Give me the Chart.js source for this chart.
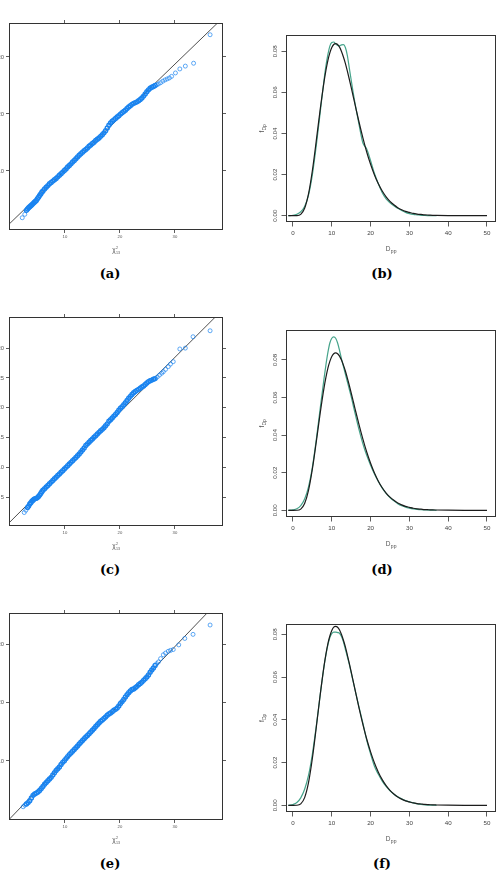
<!DOCTYPE html>
<html>
<head>
<meta charset="utf-8">
<script src="https://cdn.jsdelivr.net/npm/chart.js@4.4.1/dist/chart.umd.min.js"></script>
<style>
  html, body { margin: 0; padding: 0; background: #fff; }
  body { position: relative; width: 500px; height: 875px; overflow: hidden; }
  canvas { position: absolute; }
  .cap { position: absolute; width: 60px; text-align: center; font: bold 13px "DejaVu Serif", serif; color: #000; line-height: 16px; }
</style>
</head>
<body>
<canvas id="qqA"></canvas>
<canvas id="densB"></canvas>
<canvas id="qqC"></canvas>
<canvas id="densD"></canvas>
<canvas id="qqE"></canvas>
<canvas id="densF"></canvas>
<div class="cap" style="left:80px;top:266px">(a)</div>
<div class="cap" style="left:352px;top:266px">(b)</div>
<div class="cap" style="left:80px;top:562px">(c)</div>
<div class="cap" style="left:352px;top:562px">(d)</div>
<div class="cap" style="left:80px;top:856px">(e)</div>
<div class="cap" style="left:352px;top:856px">(f)</div>
<script>
// QQ panels: sample quantiles against chi-square(13) quantiles
const qqAx = [2.24, 2.7, 3.0, 3.2, 3.4, 3.6, 3.8, 4.0, 4.2, 4.4, 4.6, 4.8, 5.0, 5.2, 5.4, 5.6, 5.8, 6.0,
  6.3, 6.6, 6.9, 7.2, 7.5, 7.8, 8.1, 8.4, 8.7, 9.0, 9.3, 9.6, 9.9, 10.2, 10.5, 10.8, 11.1, 11.4, 11.7, 12.0,
  12.3, 12.6, 12.9, 13.2, 13.5, 13.8, 14.1, 14.4, 14.7, 15.0, 15.3, 15.6, 15.9, 16.2, 16.5, 16.8, 17.1, 17.4,
  17.7, 18.0, 18.3, 18.6, 18.9, 19.2, 19.5, 19.8, 20.1, 20.4, 20.7, 21.0, 21.3, 21.6, 21.9, 22.2, 22.5, 22.8,
  23.1, 23.4, 23.7, 24.0, 24.3, 24.6, 24.9, 25.2, 25.5, 25.8, 26.1, 26.4, 26.7, 27.0,
  27.4, 27.8, 28.2, 28.6, 29.0, 29.4, 30.1, 30.9, 31.9, 33.4, 36.4];
const qqAy = [1.8, 2.4, 3.1, 3.35, 3.54, 3.72, 3.91, 4.09, 4.28, 4.47, 4.65, 4.84, 5.13, 5.41, 5.70, 5.98, 6.27, 6.51,
  6.84, 7.16, 7.44, 7.77, 8.0, 8.23, 8.46, 8.69, 8.97, 9.25, 9.53, 9.81, 10.09, 10.37, 10.70, 10.97, 11.25, 11.58, 11.86, 12.14,
  12.47, 12.75, 13.03, 13.31, 13.54, 13.77, 14.05, 14.33, 14.56, 14.84, 15.06, 15.34, 15.57, 15.80, 16.08, 16.36, 16.69, 17.07,
  17.55, 18.03, 18.41, 18.74, 18.97, 19.20, 19.47, 19.70, 19.98, 20.21, 20.44, 20.67, 20.95, 21.23, 21.46, 21.69, 21.87, 22.0,
  22.13, 22.31, 22.53, 22.81, 23.14, 23.52, 23.9, 24.23, 24.51, 24.69, 24.82, 25.0, 25.13, 25.26,
  25.48, 25.75, 25.97, 26.15, 26.32, 26.6, 27.2, 27.9, 28.4, 28.9, 33.9];
const refAx = [-0.13, 37.8];
const refAy = [0.7, 36.0];

const qqCx = [2.6, 2.9, 3.2, 3.4, 3.6, 3.8, 4.0, 4.2, 4.4, 4.6, 4.8, 5.0, 5.2, 5.4, 5.6, 5.8, 6.0,
  6.3, 6.6, 6.9, 7.2, 7.5, 7.8, 8.1, 8.4, 8.7, 9.0, 9.3, 9.6, 9.9, 10.2, 10.5, 10.8, 11.1, 11.4, 11.7, 12.0, 12.3,
  12.6, 12.9, 13.2, 13.5, 13.8, 14.1, 14.4, 14.7, 15.0, 15.3, 15.6, 15.9, 16.2, 16.5, 16.8, 17.1, 17.4, 17.7,
  18.0, 18.3, 18.6, 18.9, 19.2, 19.5, 19.8, 20.1, 20.4, 20.7, 21.0, 21.3, 21.6, 21.9, 22.2, 22.5, 22.8,
  23.1, 23.4, 23.7, 24.0, 24.3, 24.6, 24.9, 25.2, 25.5, 25.8, 26.1, 26.4,
  26.8, 27.2, 27.6, 27.9, 28.3, 28.8, 29.2, 29.7, 30.9, 31.9, 33.3, 36.4];
const qqCy = [2.5, 2.88, 3.35, 3.58, 3.92, 4.15, 4.38, 4.57, 4.75, 4.83, 4.87, 5.0, 5.18, 5.42, 5.70, 5.98, 6.22,
  6.49, 6.77, 7.04, 7.32, 7.59, 7.86, 8.14, 8.41, 8.69, 8.96, 9.24, 9.51, 9.79, 10.06, 10.34, 10.61, 10.89, 11.16, 11.44, 11.71, 11.99,
  12.31, 12.64, 12.96, 13.29, 13.71, 13.99, 14.26, 14.54, 14.81, 15.08, 15.36, 15.63, 15.91, 16.18, 16.41, 16.68, 17.01, 17.33,
  17.76, 18.03, 18.31, 18.63, 18.91, 19.23, 19.61, 19.93, 20.21, 20.53, 20.86, 21.23, 21.61, 21.93, 22.26, 22.53, 22.75,
  22.93, 23.10, 23.28, 23.50, 23.68, 23.90, 24.18, 24.40, 24.53, 24.65, 24.78, 24.90,
  25.17, 25.49, 25.80, 26.05, 26.44, 26.90, 27.32, 27.73, 29.85, 30.0, 31.9, 32.9];
const refCx = [-0.13, 37.3];
const refCy = [0.8, 35.15];

const qqEx = [2.4, 2.7, 3.0, 3.3, 3.6, 3.9, 4.2, 4.5, 4.8, 5.1, 5.4, 5.7, 6.0, 6.3, 6.6, 6.9, 7.2, 7.5, 7.8, 8.1,
  8.4, 8.7, 9.0, 9.3, 9.6, 9.9, 10.2, 10.5, 10.8, 11.1, 11.4, 11.7, 12.0, 12.3, 12.6, 12.9, 13.2, 13.5, 13.8, 14.1,
  14.4, 14.7, 15.0, 15.3, 15.6, 15.9, 16.2, 16.5, 16.8, 17.1, 17.4, 17.7, 18.0, 18.3, 18.6, 18.9, 19.2, 19.5, 19.8, 20.1,
  20.4, 20.7, 21.0, 21.3, 21.6, 21.9, 22.2, 22.5, 22.8, 23.1, 23.4, 23.7, 24.0, 24.3, 24.6, 24.9, 25.2, 25.5, 25.8, 26.1,
  26.4, 26.7, 27.0, 27.4, 27.9, 28.3, 28.8, 29.2, 29.7, 30.7, 31.8, 33.3, 36.4];
const qqEy = [2.16, 2.43, 2.63, 2.87, 3.20, 3.66, 4.11, 4.35, 4.50, 4.69, 4.94, 5.28, 5.63, 6.02, 6.32, 6.61, 6.91, 7.20, 7.60, 7.99,
  8.39, 8.68, 8.98, 9.42, 9.77, 10.06, 10.41, 10.75, 11.10, 11.39, 11.69, 11.98, 12.28, 12.57, 12.92, 13.21, 13.51, 13.80, 14.10, 14.39,
  14.69, 14.98, 15.28, 15.57, 15.91, 16.21, 16.50, 16.80, 17.04, 17.29, 17.53, 17.83, 18.07, 18.22, 18.46, 18.71, 18.85, 19.10, 19.44, 19.84,
  20.18, 20.53, 20.97, 21.37, 21.71, 22.01, 22.25, 22.35, 22.54, 22.79, 23.08, 23.28, 23.52, 23.82, 24.11, 24.41, 24.75, 25.20, 25.59, 25.94,
  26.38, 26.68, 26.97, 27.55, 28.2, 28.5, 28.8, 28.95, 29.1, 29.9, 31.0, 31.7, 33.3];
const refEx = [-0.13, 35.9];
const refEy = [0.0, 35.4];

const qqXTicks = [10, 20, 30];
const qqYTicksAE = [10, 20, 30];
const qqYTicksC = [5, 10, 15, 20, 25, 30];

// density panels: fitted chi-square(13) density (black) and kernel estimate (green)
const densX = [-1.2, 0, 1, 2, 3, 4, 5, 6, 7, 8, 8.5, 9, 9.5, 10, 10.5, 11, 11.5, 12, 12.5, 13, 13.5, 14, 14.5, 15, 15.5,
  16, 17, 18, 19, 20, 21, 22, 23, 24, 25, 26, 27, 28, 29, 30, 31, 32, 33, 34, 35, 36, 37, 40, 45, 50];
const densFit = [0, 0, 0.00002, 0.00064, 0.0036, 0.0106, 0.0220, 0.0364, 0.0515, 0.0651, 0.0708, 0.0756, 0.0792, 0.0818, 0.0833,
  0.0837, 0.0833, 0.0820, 0.0799, 0.0772, 0.0741, 0.0704, 0.0665, 0.0624, 0.0582,
  0.0540, 0.0457, 0.0380, 0.0310, 0.0250, 0.0198, 0.0155, 0.0120, 0.0092, 0.0070, 0.0053, 0.0039, 0.0029, 0.0021, 0.0016,
  0.0011, 0.0008, 0.0006, 0.0004, 0.0003, 0.0002, 0.00015, 0.00005, 0.00001, 0];
const densKdeB = [0, 0.0002, 0.0007, 0.0019, 0.0045, 0.0100, 0.0200, 0.0340, 0.0500, 0.0660, 0.0730, 0.0785, 0.0825, 0.0843, 0.0845,
  0.0836, 0.0828, 0.0826, 0.0831, 0.0832, 0.0818, 0.0780, 0.0720, 0.0660, 0.0600,
  0.0545, 0.0445, 0.0355, 0.0325, 0.0268, 0.0205, 0.0155, 0.0112, 0.0082, 0.0063, 0.0048, 0.0036, 0.0025, 0.0016, 0.0010,
  0.0006, 0.0004, 0.0002, 0.0001, 0.00005, 0, 0, null, null, null];
const densKdeD = [0, 0.0002, 0.0008, 0.0025, 0.0060, 0.0125, 0.0230, 0.0375, 0.0540, 0.0700, 0.0775, 0.0840, 0.0890, 0.0915, 0.0922,
  0.0915, 0.0890, 0.0850, 0.0805, 0.0765, 0.0725, 0.0685, 0.0645, 0.0605, 0.0560,
  0.0515, 0.0430, 0.0355, 0.0292, 0.0240, 0.0193, 0.0153, 0.0118, 0.0090, 0.0068, 0.0050, 0.0035, 0.0024, 0.0017, 0.0012,
  0.0008, 0.0005, 0.0003, 0.0002, 0.0001, 0.00005, 0, null, null, null];
const densKdeF = [0, 0.0004, 0.0013, 0.0035, 0.0075, 0.0140, 0.0240, 0.0370, 0.0515, 0.0650, 0.0705, 0.0750, 0.0785, 0.0803, 0.0810,
  0.0810, 0.0808, 0.0805, 0.0790, 0.0765, 0.0730, 0.0695, 0.0660, 0.0620, 0.0580,
  0.0540, 0.0460, 0.0385, 0.0305, 0.0240, 0.0182, 0.0145, 0.0113, 0.0088, 0.0068, 0.0052, 0.0040, 0.0030, 0.0022, 0.0016,
  0.0011, 0.0007, 0.0004, 0.0002, 0.0001, 0.00005, 0, null, null, null];
const densXTicks = [0, 10, 20, 30, 40, 50];
const densYTicks = [0, 0.02, 0.04, 0.06, 0.08];

const sans = '"Liberation Sans", Arial, sans-serif';
Chart.defaults.font.family = sans;

// draws the box round the plot region and the sub/superscripted axis titles
const frame = {
  id: 'frame',
  afterDatasetsDraw(chart, args, opts) {
    const { ctx, chartArea: a } = chart;
    ctx.save();
    ctx.strokeStyle = '#333';
    ctx.lineWidth = 1;
    const l = Math.round(a.left), t = Math.round(a.top), r = Math.round(a.right), b = Math.round(a.bottom);
    ctx.strokeRect(l + 0.5, t + 0.5, r - l - 1, b - t - 1);
    if (opts.xTitle) drawTitle(ctx, opts.xTitle, (a.left + a.right) / 2, a.bottom + opts.xTitle.off, 0);
    if (opts.yTitle) drawTitle(ctx, opts.yTitle, a.left - opts.yTitle.off, (a.top + a.bottom) / 2, -Math.PI / 2);
    ctx.restore();
  }
};

function drawTitle(ctx, t, cx, cy, rot) {
  ctx.save();
  ctx.translate(cx, cy);
  ctx.rotate(rot);
  ctx.fillStyle = '#555';
  ctx.textBaseline = 'alphabetic';
  ctx.font = t.size + 'px ' + sans;
  const bw = ctx.measureText(t.base).width;
  ctx.font = t.small + 'px ' + sans;
  const sw = Math.max(ctx.measureText(t.sub || '').width, ctx.measureText(t.sup || '').width);
  const x0 = -(bw + sw) / 2;
  const base = t.size * 0.35;
  ctx.font = t.size + 'px ' + sans;
  ctx.fillText(t.base, x0, base);
  ctx.font = t.small + 'px ' + sans;
  if (t.sup) ctx.fillText(t.sup, x0 + bw + 0.3, base - t.size * 0.45);
  if (t.sub) ctx.fillText(t.sub, x0 + bw + 0.3, base + t.size * 0.3);
  ctx.restore();
}

function placeCanvas(id, box, g) {
  const cv = document.getElementById(id);
  const w = box.R - box.L + g.lw + g.rw;
  const h = box.B - box.T + g.th + g.bh;
  cv.width = w; cv.height = h;
  cv.style.width = w + 'px'; cv.style.height = h + 'px';
  cv.style.left = (box.L - g.lw) + 'px';
  cv.style.top = (box.T - g.th) + 'px';
  return cv;
}

const setTicks = vals => s => { s.ticks = vals.map(v => ({ value: v })); };

function qqChart(id, box, xs, ys, refX, refY, yTicks, xr, yr) {
  const g = { lw: 40, rw: 8, th: 8, bh: 32 };
  const cv = placeCanvas(id, box, g);
  const grid = { drawOnChartArea: false, drawTicks: true, tickLength: 3, color: '#333', lineWidth: 0.8 };
  new Chart(cv, {
    type: 'scatter',
    data: {
      datasets: [
        {
          data: xs.map((x, i) => ({ x: x, y: ys[i] })),
          pointRadius: 2,
          // where the points crowd together they merge into a solid band
          pointBorderWidth: c => (c.raw && c.raw.x > 2.9 && c.raw.x < 26.5) ? 1.4 : 0.7,
          borderColor: '#1a84f0', backgroundColor: 'rgba(0,0,0,0)'
        },
        {
          type: 'line',
          data: refX.map((x, i) => ({ x: x, y: refY[i] })),
          borderColor: '#222', borderWidth: 0.8, pointRadius: 0, fill: false
        }
      ]
    },
    options: {
      responsive: false, devicePixelRatio: 1, animation: false, events: [],
      layout: { padding: 0 },
      plugins: {
        legend: { display: false }, tooltip: { enabled: false },
        frame: { xTitle: { base: 'χ', sup: '2', sub: '13', size: 6.5, small: 3.6, off: 20 } }
      },
      scales: {
        x: {
          type: 'linear', position: 'bottom', min: xr[0], max: xr[1],
          afterBuildTicks: setTicks(qqXTicks), afterFit: s => { s.height = g.bh; },
          ticks: { font: { size: 4.2 }, color: '#555', padding: 1.5, autoSkip: false, maxRotation: 0 },
          grid: grid, border: { display: false }
        },
        xTop: {
          type: 'linear', position: 'top', min: xr[0], max: xr[1],
          afterBuildTicks: setTicks(qqXTicks), afterFit: s => { s.height = g.th; },
          ticks: { display: false }, grid: grid, border: { display: false }
        },
        y: {
          type: 'linear', position: 'left', min: yr[0], max: yr[1],
          afterBuildTicks: setTicks(yTicks), afterFit: s => { s.width = g.lw; },
          ticks: { font: { size: 5.8 }, color: '#555', padding: 2, autoSkip: false },
          grid: grid, border: { display: false }
        },
        yRight: {
          type: 'linear', position: 'right', min: yr[0], max: yr[1],
          afterBuildTicks: setTicks(yTicks), afterFit: s => { s.width = g.rw; },
          ticks: { display: false }, grid: grid, border: { display: false }
        }
      }
    },
    plugins: [frame]
  });
}

function densChart(id, box, kde, yr) {
  const g = { lw: 36, rw: 5, th: 8, bh: 34 };
  const cv = placeCanvas(id, box, g);
  const grid = { drawOnChartArea: false, drawTicks: true, tickLength: 4.5, color: '#333', lineWidth: 0.8 };
  const pts = arr => densX.map((x, i) => ({ x: x, y: arr[i] })).filter(p => p.y !== null);
  new Chart(cv, {
    type: 'line',
    data: {
      datasets: [
        { data: pts(densFit), borderColor: '#1c1c1c', borderWidth: 1.2, pointRadius: 0, cubicInterpolationMode: 'monotone' },
        { data: pts(kde), borderColor: '#45a38a', borderWidth: 1.2, pointRadius: 0, cubicInterpolationMode: 'monotone' }
      ]
    },
    options: {
      responsive: false, devicePixelRatio: 1, animation: false, events: [],
      layout: { padding: { top: g.th, right: g.rw } },
      plugins: {
        legend: { display: false }, tooltip: { enabled: false },
        frame: {
          xTitle: { base: 'D', sub: 'pp', size: 6.5, small: 5, off: 26.5 },
          yTitle: { base: 'f', sub: 'Dp', size: 6.5, small: 5, off: 24.5 }
        }
      },
      scales: {
        x: {
          type: 'linear', position: 'bottom', min: -1.8, max: 52.32,
          afterBuildTicks: setTicks(densXTicks), afterFit: s => { s.height = g.bh; },
          ticks: { font: { size: 6.2 }, color: '#444', padding: 3.5, autoSkip: false, maxRotation: 0 },
          grid: grid, border: { display: false }
        },
        y: {
          type: 'linear', position: 'left', min: yr[0], max: yr[1],
          afterBuildTicks: setTicks(densYTicks), afterFit: s => { s.width = g.lw; },
          ticks: {
            font: { size: 6.2 }, color: '#444', padding: 0.5, autoSkip: false,
            minRotation: 90, maxRotation: 90, crossAlign: 'center',
            callback: v => v.toFixed(2)
          },
          grid: grid, border: { display: false }
        }
      }
    },
    plugins: [frame]
  });
}

qqChart('qqA', { L: 9, R: 223, T: 23, B: 230 }, qqAx, qqAy, refAx, refAy, qqYTicksAE, [-0.17, 38.75], [-0.35, 35.96]);
qqChart('qqC', { L: 9, R: 223, T: 317, B: 526 }, qqCx, qqCy, refCx, refCy, qqYTicksC, [-0.17, 38.75], [0.25, 35.2]);
qqChart('qqE', { L: 9, R: 223, T: 613, B: 820 }, qqEx, qqEy, refEx, refEy, qqYTicksAE, [-0.17, 38.75], [-0.11, 35.36]);

densChart('densB', { L: 286, R: 496, T: 35, B: 222 }, densKdeB, [-0.00307, 0.0879]);
densChart('densD', { L: 286, R: 496, T: 330, B: 517 }, densKdeD, [-0.00356, 0.0959]);
densChart('densF', { L: 286, R: 496, T: 624, B: 812 }, densKdeF, [-0.00313, 0.0848]);
</script>
</body>
</html>
